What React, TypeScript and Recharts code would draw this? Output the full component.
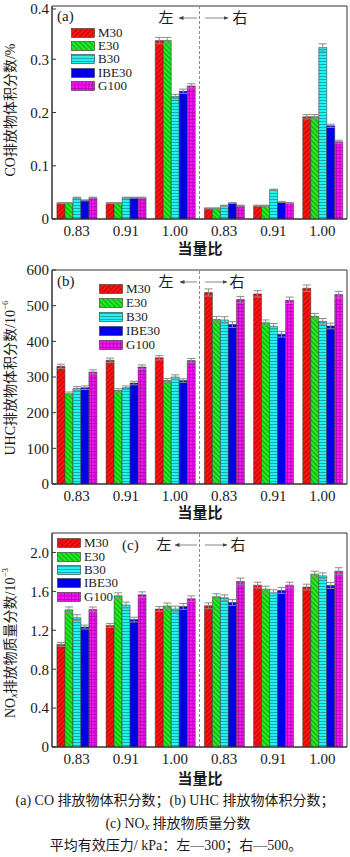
import React from 'react';
import { BarChart, Bar, XAxis, YAxis, ErrorBar, ReferenceLine, ReferenceArea, Legend } from 'recharts';

const FONT = "'Liberation Serif','Noto Sans CJK SC',serif";

const categories = ['L0.83', 'L0.91', 'L1.00', 'R0.83', 'R0.91', 'R1.00'];
const categoryLabels = ['0.83', '0.91', '1.00', '0.83', '0.91', '1.00'];
const seriesNames = ['M30', 'E30', 'B30', 'IBE30', 'G100'];

// (a) CO volume fraction, %
const coM30 = [0.030, 0.030, 0.335, 0.020, 0.025, 0.192];
const coE30 = [0.030, 0.030, 0.335, 0.020, 0.025, 0.192];
const coB30 = [0.040, 0.040, 0.230, 0.025, 0.055, 0.322];
const coIBE30 = [0.035, 0.040, 0.240, 0.030, 0.032, 0.175];
const coG100 = [0.040, 0.040, 0.250, 0.025, 0.030, 0.145];
const coErrM30 = [0.001, 0.001, 0.006, 0.001, 0.001, 0.004];
const coErrE30 = [0.001, 0.001, 0.006, 0.001, 0.001, 0.004];
const coErrB30 = [0.001, 0.001, 0.004, 0.001, 0.001, 0.007];
const coErrIBE30 = [0.001, 0.001, 0.004, 0.001, 0.001, 0.003];
const coErrG100 = [0.001, 0.001, 0.004, 0.001, 0.001, 0.003];

// (b) UHC volume fraction, 10^-6
const uhcM30 = [330, 347, 354, 537, 533, 549];
const uhcE30 = [253, 262, 290, 461, 452, 470];
const uhcB30 = [268, 270, 300, 460, 442, 456];
const uhcIBE30 = [270, 283, 290, 447, 420, 443];
const uhcG100 = [314, 328, 346, 517, 515, 531];
const uhcErrM30 = [6, 6, 6, 10, 9, 9];
const uhcErrE30 = [5, 5, 6, 9, 8, 8];
const uhcErrB30 = [5, 5, 6, 9, 8, 8];
const uhcErrIBE30 = [5, 5, 5, 8, 8, 8];
const uhcErrG100 = [6, 6, 6, 9, 9, 9];

// (c) NOx mass fraction, 10^-3
const noxM30 = [1.055, 1.25, 1.418, 1.452, 1.664, 1.644];
const noxE30 = [1.41, 1.555, 1.45, 1.545, 1.623, 1.777];
const noxB30 = [1.33, 1.46, 1.418, 1.534, 1.586, 1.76];
const noxIBE30 = [1.233, 1.31, 1.445, 1.486, 1.61, 1.661];
const noxG100 = [1.414, 1.565, 1.524, 1.702, 1.664, 1.808];
const noxErrM30 = [0.02, 0.02, 0.025, 0.03, 0.03, 0.03];
const noxErrE30 = [0.03, 0.03, 0.03, 0.03, 0.03, 0.03];
const noxErrB30 = [0.03, 0.03, 0.03, 0.03, 0.03, 0.03];
const noxErrIBE30 = [0.02, 0.025, 0.03, 0.03, 0.03, 0.03];
const noxErrG100 = [0.025, 0.03, 0.03, 0.035, 0.03, 0.035];

const coTicks = [0, 0.1, 0.2, 0.3, 0.4];
const uhcTicks = [0, 100, 200, 300, 400, 500, 600];
const noxTicks = [0, 0.4, 0.8, 1.2, 1.6, 2.0];

const buildData = (vals: number[][], errs: number[][]) =>
  categories.map((c, i) => {
    const row: any = { cat: c };
    seriesNames.forEach((s, k) => {
      row[s] = vals[k][i];
      row[s + 'e'] = errs[k][i];
    });
    return row;
  });

const coData = buildData([coM30, coE30, coB30, coIBE30, coG100], [coErrM30, coErrE30, coErrB30, coErrIBE30, coErrG100]);
const uhcData = buildData([uhcM30, uhcE30, uhcB30, uhcIBE30, uhcG100], [uhcErrM30, uhcErrE30, uhcErrB30, uhcErrIBE30, uhcErrG100]);
const noxData = buildData([noxM30, noxE30, noxB30, noxIBE30, noxG100], [noxErrM30, noxErrE30, noxErrB30, noxErrIBE30, noxErrG100]);

const fills: Record<string, string> = {
  M30: 'url(#p-M30)',
  E30: 'url(#p-E30)',
  B30: 'url(#p-B30)',
  IBE30: '#0000e6',
  G100: 'url(#p-G100)',
};

const Patterns = () => (
  <svg width={0} height={0} style={{ position: 'absolute', left: 0, top: 0 }}>
    <defs>
      <pattern id="p-M30" width={3.5} height={3.5} patternUnits="userSpaceOnUse" patternTransform="rotate(45)">
        <rect width={3.5} height={3.5} fill="#ff1414" />
        <line x1={1.75} y1={0} x2={1.75} y2={3.5} stroke="#a80000" strokeWidth={0.9} />
      </pattern>
      <pattern id="p-E30" width={3.5} height={3.5} patternUnits="userSpaceOnUse" patternTransform="rotate(-45)">
        <rect width={3.5} height={3.5} fill="#22f022" />
        <line x1={1.75} y1={0} x2={1.75} y2={3.5} stroke="#0c8a0c" strokeWidth={0.9} />
      </pattern>
      <pattern id="p-B30" width={4} height={3} patternUnits="userSpaceOnUse">
        <rect width={4} height={3} fill="#22f2f2" />
        <line x1={0} y1={1.5} x2={4} y2={1.5} stroke="#0e9a9a" strokeWidth={0.8} />
      </pattern>
      <pattern id="p-G100" width={3.5} height={3.5} patternUnits="userSpaceOnUse">
        <rect width={3.5} height={3.5} fill="#f514f5" />
        <line x1={0.4} y1={0} x2={0.4} y2={3.5} stroke="#a400a4" strokeWidth={0.7} />
        <line x1={0} y1={0.4} x2={3.5} y2={0.4} stroke="#a400a4" strokeWidth={0.7} />
      </pattern>
    </defs>
  </svg>
);

const LegendBox = ({ rowH }: { rowH: number }) => (
  <div style={{ display: 'flex', flexDirection: 'column' }}>
    {seriesNames.map((s) => (
      <div key={s} style={{ display: 'flex', alignItems: 'center', height: rowH, overflow: 'hidden' }}>
        <svg width={24} height={10} style={{ display: 'block' }}>
          <rect x={0.5} y={0.5} width={23} height={9} fill={fills[s]} stroke="#333" strokeWidth={0.6} />
        </svg>
        <div
          style={{
            marginLeft: 3,
            fontSize: 13,
            fontFamily: FONT,
            fontWeight: 'normal',
            color: '#1a1a1a',
            lineHeight: '12px',
            height: 12,
          }}
        >
          {s}
        </div>
      </div>
    ))}
  </div>
);

const YTick = (props: any) => {
  const { x, y, payload, fmt } = props;
  const axisX = x + 3;
  return (
    <g>
      <line x1={axisX} y1={y} x2={axisX + 4} y2={y} stroke="#333" strokeWidth={1} />
      <text x={x} y={y} dy="0.355em" textAnchor="end" fontSize={15} fontFamily={FONT} fill="#1a1a1a">
        {fmt(payload.value)}
      </text>
    </g>
  );
};

type PanelProps = {
  top: number;
  mt: number;
  height: number;
  data: any[];
  yMax: number;
  ticks: number[];
  fmt: (v: number) => string;
  legendLeft: number;
  legendTop: number;
  rowH: number;
};

const Panel = ({ top, mt, height, data, yMax, ticks, fmt, legendLeft, legendTop, rowH }: PanelProps) => (
  <div style={{ position: 'absolute', left: 0, top }}>
    <BarChart
      width={350}
      height={height}
      data={data}
      margin={{ top: mt, right: 3, left: 0, bottom: 0 }}
      barCategoryGap="10%"
      barGap={0}
    >
      <XAxis
        dataKey="cat"
        interval={0}
        height={30}
        tickLine={false}
        tickSize={0}
        tickMargin={6}
        axisLine={{ stroke: '#333' }}
        tickFormatter={(v: string) => categoryLabels[categories.indexOf(v)]}
        tick={{ fontSize: 15, fontFamily: FONT, fill: '#1a1a1a' }}
      />
      <YAxis
        domain={[0, yMax]}
        ticks={ticks}
        width={52}
        allowDataOverflow
        tickLine={false}
        tickSize={0}
        tickMargin={3}
        axisLine={{ stroke: '#333' }}
        tick={(p: any) => <YTick {...p} fmt={fmt} />}
      />
      <ReferenceArea y1={0} y2={yMax} fill="none" fillOpacity={0} stroke="#333" strokeWidth={1} ifOverflow="visible" />
      <ReferenceLine x={categories[2]} position="end" stroke="#8a8a8a" strokeDasharray="3 2" strokeWidth={1} />
      <Legend
        layout="vertical"
        align="center"
        verticalAlign="middle"
        content={() => <LegendBox rowH={rowH} />}
        wrapperStyle={{ left: legendLeft, top: legendTop, width: 'auto' }}
      />
      {seriesNames.map((s) => (
        <Bar key={s} dataKey={s} name={s} fill={fills[s]} stroke="#333" strokeWidth={0.5} isAnimationActive={false}>
          <ErrorBar dataKey={s + 'e'} width={4} stroke="#8c8c8c" strokeWidth={1} />
        </Bar>
      ))}
    </BarChart>
  </div>
);

const arrowDefs = (
  <defs>
    <marker id="ah" markerWidth={5} markerHeight={4} refX={4.5} refY={2} orient="auto" markerUnits="userSpaceOnUse">
      <path d="M0,0 L5,2 L0,4 Z" fill="#444" />
    </marker>
  </defs>
);

const Direction = ({ y, lx, l1, l2, r1, r2, rx }: any) => (
  <g fontFamily={FONT} fontSize={15} fill="#1a1a1a">
    <text x={lx} y={y} textAnchor="middle" dominantBaseline="central">左</text>
    <line x1={l2} y1={y} x2={l1} y2={y} stroke="#666" strokeWidth={0.8} markerEnd="url(#ah)" />
    <line x1={r1} y1={y} x2={r2} y2={y} stroke="#666" strokeWidth={0.8} markerEnd="url(#ah)" />
    <text x={rx} y={y} textAnchor="middle" dominantBaseline="central">右</text>
  </g>
);

const Overlay = () => (
  <svg width={350} height={857} style={{ position: 'absolute', left: 0, top: 0, pointerEvents: 'none' }}>
    {arrowDefs}
    <g fontFamily={FONT} fill="#1a1a1a">
      <text transform="translate(10,110) rotate(-90)" textAnchor="middle" dominantBaseline="central" fontSize={14}>
        CO排放物体积分数/%
      </text>
      <text transform="translate(10,378) rotate(-90)" textAnchor="middle" dominantBaseline="central" fontSize={14}>
        UHC排放物体积分数/10<tspan dy={-5} fontSize={9}>−6</tspan>
      </text>
      <text transform="translate(10,643) rotate(-90)" textAnchor="middle" dominantBaseline="central" fontSize={14}>
        NO<tspan dy={3} fontSize={10} fontStyle="italic">x</tspan>
        <tspan dy={-3}>排放物质量分数/10</tspan>
        <tspan dy={-5} fontSize={9}>−3</tspan>
      </text>
      <text x={200} y={249} textAnchor="middle" dominantBaseline="central" fontSize={15} fontWeight="bold">当量比</text>
      <text x={200} y={513} textAnchor="middle" dominantBaseline="central" fontSize={15} fontWeight="bold">当量比</text>
      <text x={200} y={779} textAnchor="middle" dominantBaseline="central" fontSize={15} fontWeight="bold">当量比</text>
      <text x={57} y={16} dominantBaseline="central" fontSize={15}>(a)</text>
      <text x={57} y={281} dominantBaseline="central" fontSize={15}>(b)</text>
      <text x={122} y={545} dominantBaseline="central" fontSize={15}>(c)</text>
      <text x={175} y={800} textAnchor="middle" dominantBaseline="central" fontSize={14}>
        (a) CO 排放物体积分数；(b) UHC 排放物体积分数；
      </text>
      <text x={178} y={823} textAnchor="middle" dominantBaseline="central" fontSize={14}>
        (c) NO<tspan dy={3} fontSize={10} fontStyle="italic">x</tspan>
        <tspan dy={-3}> 排放物质量分数</tspan>
      </text>
      <text x={176} y={845} textAnchor="middle" dominantBaseline="central" fontSize={14}>
        平均有效压力/ kPa：左—300；右—500。
      </text>
    </g>
    <Direction y={18} lx={166} l1={179} l2={197} r1={205} r2={228} rx={240} />
    <Direction y={282} lx={166} l1={180} l2={197} r1={205} r2={227} rx={237} />
    <Direction y={545} lx={164} l1={175} l2={197} r1={205} r2={227} rx={238} />
  </svg>
);

export default function App() {
  return (
    <div style={{ position: 'absolute', left: 0, top: 0, width: 350, height: 857, background: '#fff', overflow: 'hidden' }}>
      <Patterns />
      <Panel
        top={0}
        mt={6}
        height={249}
        data={coData}
        yMax={0.4}
        ticks={coTicks}
        fmt={(v) => (v === 0 ? '0' : v.toFixed(1))}
        legendLeft={71}
        legendTop={26}
        rowH={13.4}
      />
      <Panel
        top={255}
        mt={15}
        height={259}
        data={uhcData}
        yMax={600}
        ticks={uhcTicks}
        fmt={(v) => String(v)}
        legendLeft={99}
        legendTop={27}
        rowH={14.1}
      />
      <Panel
        top={525}
        mt={8}
        height={252}
        data={noxData}
        yMax={2.2}
        ticks={noxTicks}
        fmt={(v) => (v === 0 ? '0' : v.toFixed(1))}
        legendLeft={57}
        legendTop={11.5}
        rowH={13.4}
      />
      <Overlay />
    </div>
  );
}
